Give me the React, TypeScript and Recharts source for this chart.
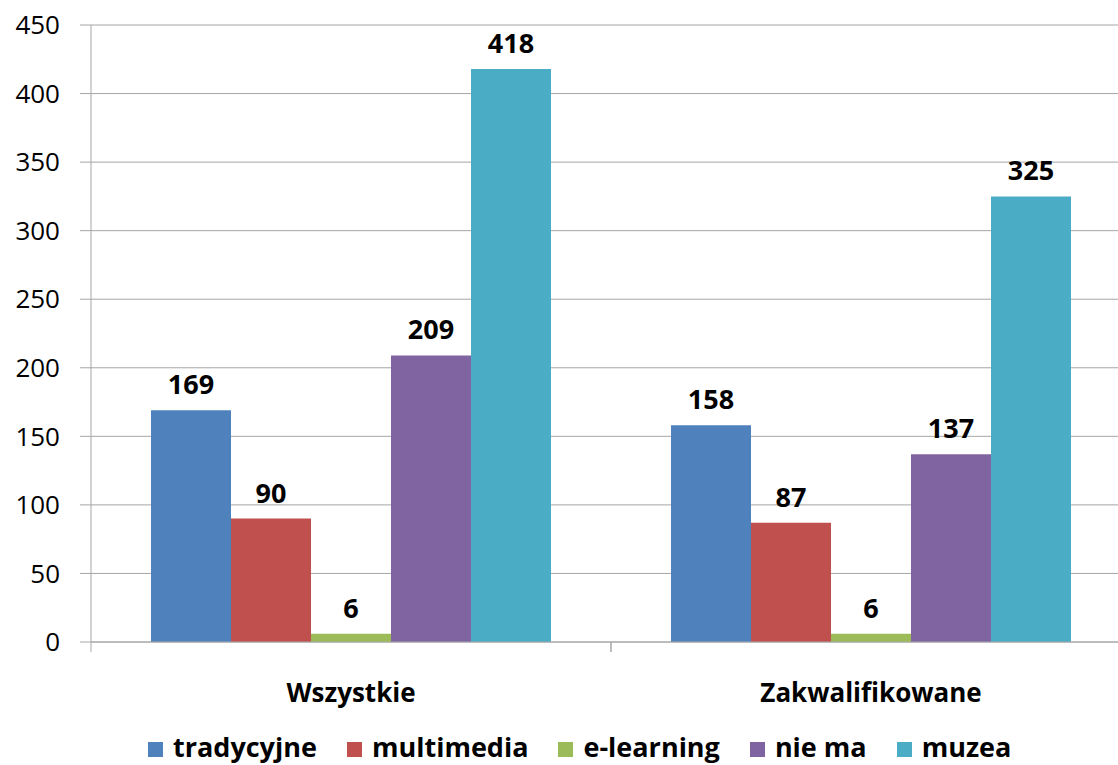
import { BarChart, Bar, XAxis, YAxis, CartesianGrid, Legend, LabelList } from "recharts";

const categories = ["Wszystkie", "Zakwalifikowane"];
const tradycyjne = [169, 158];
const multimedia = [90, 87];
const elearning = [6, 6];
const nieMa = [209, 137];
const muzea = [418, 325];
const yTicks = [0, 50, 100, 150, 200, 250, 300, 350, 400, 450];

const series = [
  { key: "tradycyjne", name: "tradycyjne", color: "#4F81BD" },
  { key: "multimedia", name: "multimedia", color: "#C0504D" },
  { key: "elearning", name: "e-learning", color: "#9BBB59" },
  { key: "nieMa", name: "nie ma", color: "#8064A2" },
  { key: "muzea", name: "muzea", color: "#4BACC6" },
];

const data = categories.map((c, i) => ({
  category: c,
  tradycyjne: tradycyjne[i],
  multimedia: multimedia[i],
  elearning: elearning[i],
  nieMa: nieMa[i],
  muzea: muzea[i],
}));

const FONT = "'Open Sans', sans-serif";
const GRID = "#a6a6a6";

const CategoryTick = (props: any) => {
  const { x, y, payload } = props;
  const off = payload.offset || 0;
  const top = y - 50;
  return (
    <g>
      <line x1={x - off} x2={x - off} y1={top - 10} y2={top} stroke={GRID} />
      <line x1={x + off} x2={x + off} y1={top - 10} y2={top} stroke={GRID} />
      <text x={x} y={y} textAnchor="middle" fontFamily={FONT} fontSize={26} fontWeight="bold" fill="#000">
        {payload.value}
      </text>
    </g>
  );
};

const LegendContent = () => (
  <div style={{ display: "flex", justifyContent: "flex-start", paddingLeft: 148, paddingTop: 8, fontFamily: FONT, fontSize: 27, fontWeight: "bold", color: "#000" }}>
    {series.map((s) => (
      <div key={s.key} style={{ display: "flex", alignItems: "center", marginRight: 30 }}>
        <span style={{ display: "inline-block", width: 15, height: 15, background: s.color, marginRight: 10, marginTop: 6 }} />
        <span>{s.name}</span>
      </div>
    ))}
  </div>
);

export default function App() {
  return (
    <div style={{ position: "absolute", left: 0, top: 0, width: 1118, height: 765, overflow: "hidden", background: "#fff" }}>
      <BarChart
        width={1140}
        height={765}
        data={data}
        margin={{ top: 25, right: 9, left: 0, bottom: 0 }}
        barCategoryGap={60}
        barGap={0}
      >
        <CartesianGrid vertical={false} stroke={GRID} />
        <XAxis
          dataKey="category"
          axisLine={{ stroke: GRID }}
          tickLine={false}
          tickSize={10}
          tickMargin={50}
          height={78}
          tick={<CategoryTick />}
          interval={0}
        />
        <YAxis
          domain={[0, 450]}
          ticks={yTicks}
          width={91}
          axisLine={{ stroke: GRID }}
          tickLine={{ stroke: GRID }}
          tickSize={11}
          tickMargin={20}
          tick={{ fill: "#000", fontSize: 26, fontFamily: FONT }}
          interval={0}
        />
        <Legend verticalAlign="bottom" height={45} content={<LegendContent />} />
        {series.map((s) => (
          <Bar key={s.key} dataKey={s.key} name={s.name} fill={s.color} isAnimationActive={false}>
            <LabelList
              dataKey={s.key}
              position="top"
              offset={16}
              style={{ fill: "#000", fontSize: 27, fontWeight: "bold", fontFamily: FONT }}
            />
          </Bar>
        ))}
      </BarChart>
    </div>
  );
}
